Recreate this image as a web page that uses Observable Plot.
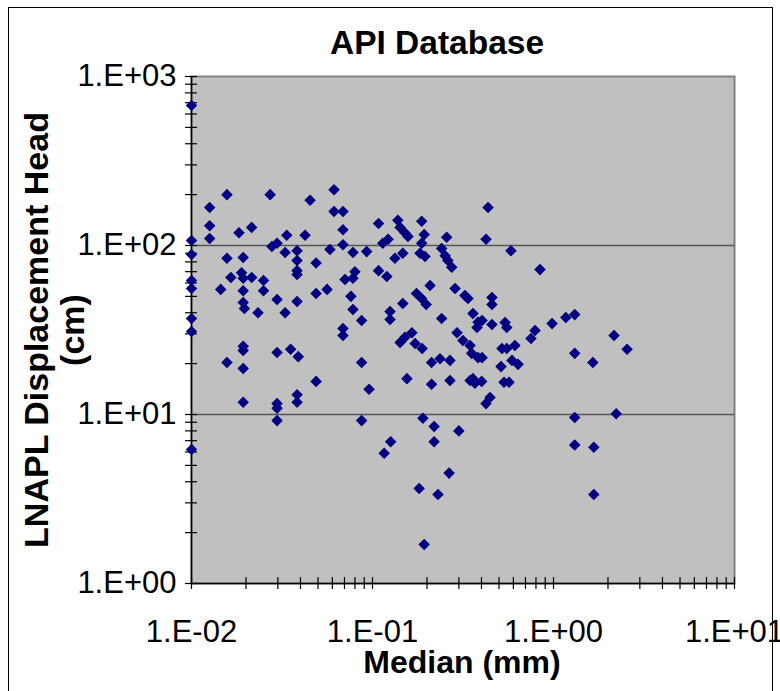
<!DOCTYPE html>
<html>
<head>
<meta charset="utf-8">
<script src="https://cdn.jsdelivr.net/npm/d3@7"></script>
<script src="https://cdn.jsdelivr.net/npm/@observablehq/plot@0.6"></script>
<style>
  html, body { margin: 0; padding: 0; background: #fff; }
  #wrap { position: relative; width: 780px; height: 691px; overflow: hidden; }
  #wrap svg { display: block; }
  #border { position: absolute; left: 8px; top: 7px; width: 765px; height: 720px; border: 1.5px solid #000; pointer-events: none; box-sizing: border-box; }
</style>
</head>
<body>
<div id="wrap"><div id="border"></div></div>
<script>
const titleText = "API Database";
const xTitle = "Median (mm)";
const yTitle1 = "LNAPL Displacement Head";
const yTitle2 = "(cm)";

const xMajorTicks = [0.01, 0.1, 1, 10];
const xTickLabels = ["1.E-02", "1.E-01", "1.E+00", "1.E+01"];
const xMinorTicks = [0.02,0.03,0.04,0.05,0.06,0.07,0.08,0.09,0.2,0.3,0.4,0.5,0.6,0.7,0.8,0.9,2,3,4,5,6,7,8,9];
const yMajorTicks = [1, 10, 100, 1000];
const yTickLabels = ["1.E+00", "1.E+01", "1.E+02", "1.E+03"];
const yMinorTicks = [2,3,4,5,6,7,8,9,20,30,40,50,60,70,80,90,200,300,400,500,600,700,800,900];
const gridValues = [10, 100];

const medianMm = [
  0.01,0.01,0.01,0.01,0.01,0.01,0.01,0.01,
  0.0126,0.0126,0.0126,0.0145,0.0157,0.0157,0.0157,0.0165,0.0183,
  0.0193,0.0189,0.0193,0.0193,0.0193,0.0196,0.0193,0.0193,0.0193,0.0193,
  0.0215,0.0215,0.0233,0.025,0.025,0.0272,0.0278,0.0297,0.0297,0.0297,0.0297,0.0297,0.0297,
  0.0336,0.0329,0.0329,0.0353,0.0389,
  0.0383,0.0383,0.0383,0.0383,0.0383,0.0383,0.0383,
  0.0424,0.0452,0.0488,0.0488,0.0488,0.0561,0.0582,0.0613,0.0613,
  0.0687,0.0687,0.0687,0.0705,0.0687,0.0687,
  0.078,0.080,0.078,0.076,0.078,0.0871,0.0871,0.0871,0.0929,0.0957,
  0.108,0.108,0.114,0.122,0.120,0.125,0.125,0.126,0.116,
  0.133,0.138,0.142,0.151,0.157,0.147,0.147,0.165,0.151,0.142,0.172,0.188,0.155,
  0.175,0.187,0.198,0.187,0.193,0.187,0.183,0.195,0.208,0.19,0.219,0.219,0.181,0.230,0.193,
  0.212,0.236,0.268,0.212,0.268,0.265,0.30,
  0.241,0.252,0.261,0.274,0.257,0.241,0.286,0.324,0.337,0.293,0.316,0.346,0.353,0.346,
  0.359,0.383,0.378,0.383,0.359,0.368,0.401,0.403,0.403,
  0.424,0.435,0.457,0.457,0.457,0.446,0.424,
  0.54,0.552,0.519,0.552,0.612,0.59,0.637,0.513,0.533,0.568,0.582,
  0.751,0.791,0.842,0.982,1.17,1.31,1.31,1.65,2.16,2.55,1.31,2.22,1.31,1.67,1.67
];
const headCm = [
  673,107,88.5,62,55.7,37,31,6.2,
  168,131,110,55,200,84,20.3,64.7,119,
  85,69,64,54,46,42.4,25.3,23.9,18.7,11.8,
  128,64.7,40,62,54,200,98.6,103,47.9,23.3,11.6,10.9,9.2,
  115,91,40,24.3,22,
  93,81.5,71,67.4,46.6,13.1,11.8,
  115,185,78.8,52,15.7,55,94.7,214,159,
  159,124,101,63,32.3,29.3,
  91,70,64,50,41.8,36,20.3,9.2,92,14.1,
  135,71,103,109,65.6,40.7,36.5,6.9,5.9,
  84,141,128,119,113,90,45.4,30.5,28.6,26.7,26.3,24.6,16.3,
  52,48.6,44.8,139,116,103,90,86,58,9.5,8.5,6.9,3.65,3.36,1.70,
  20.3,21.4,20.9,15.1,15.9,4.5,8.0,
  96,87,81.5,74.4,112,37,55.7,50.6,48.6,30.5,27.4,25.6,23,15.9,
  39.6,35.2,32.7,21.7,16.3,15.3,15.7,21.7,36,
  109,168,49.2,44.8,34.1,12.6,11.6,
  35,32.7,24.6,24.6,25.6,20.9,19.8,19.2,15.5,15.5,93,
  28.2,31.4,72,34.5,37.5,39,23,20.3,29.3,24.3,9.6,10.1,6.6,6.4,3.36
];

const points = medianMm.map((m, i) => ({median: m, head: headCm[i]}));
const xLabelOf = v => xTickLabels[xMajorTicks.indexOf(v)];
const yLabelOf = v => yTickLabels[yMajorTicks.indexOf(v)];

const font = "'Liberation Sans', Arial, sans-serif";

const chart = Plot.plot({
  width: 780,
  height: 691,
  marginLeft: 191,
  marginRight: 46,
  marginTop: 76,
  marginBottom: 108,
  style: {fontFamily: font, background: "transparent", color: "#000", overflow: "visible"},
  x: {type: "log", domain: [0.01, 10]},
  y: {type: "log", domain: [1, 1000]},
  marks: [
    Plot.frame({fill: "#C0C0C0", stroke: "#808080", strokeWidth: 2}),
    Plot.ruleY(gridValues, {stroke: "#555", strokeWidth: 1.5}),
    Plot.ruleX([0.01], {stroke: "#000", strokeWidth: 1.5}),
    Plot.ruleY([1], {stroke: "#000", strokeWidth: 1.5}),
    // crossing tick marks
    Plot.axisY({ticks: yMinorTicks, anchor: "left", tickSize: 12, dx: 6, text: null, label: null, stroke: "#000", strokeWidth: 1.2}),
    Plot.axisY({ticks: yMajorTicks, anchor: "left", tickSize: 12, dx: 6, text: null, label: null, stroke: "#000", strokeWidth: 1.2}),
    Plot.axisX({ticks: xMinorTicks, anchor: "bottom", tickSize: 12, dy: -6, text: null, label: null, stroke: "#000", strokeWidth: 1.2}),
    Plot.axisX({ticks: xMajorTicks, anchor: "bottom", tickSize: 12, dy: -6, text: null, label: null, stroke: "#000", strokeWidth: 1.2}),
    // tick labels
    Plot.axisY({ticks: yMajorTicks, anchor: "left", tickSize: 0, tickPadding: 15, tickFormat: yLabelOf, label: null, fontSize: 31, fill: "#000"}),
    Plot.axisX({ticks: xMajorTicks, anchor: "bottom", tickSize: 0, tickPadding: 36, tickFormat: xLabelOf, label: null, fontSize: 31, fill: "#000"}),
    // data
    Plot.dot(points, {x: "median", y: "head", symbol: "diamond2", r: 5.2, fill: "#000080", stroke: "none"}),
    // titles
    Plot.text([titleText], {frameAnchor: "top", dx: -26, dy: -33, lineAnchor: "middle", textAnchor: "middle", fontSize: 33.5, fontWeight: "bold", fill: "#000"}),
    Plot.text([xTitle], {frameAnchor: "bottom", dx: -1, dy: 79, lineAnchor: "middle", textAnchor: "middle", fontSize: 32, fontWeight: "bold", fill: "#000"}),
    Plot.text([yTitle1], {frameAnchor: "left", dx: -154, rotate: -90, lineAnchor: "middle", textAnchor: "middle", fontSize: 34, fontWeight: "bold", fill: "#000"}),
    Plot.text([yTitle2], {frameAnchor: "left", dx: -118, rotate: -90, lineAnchor: "middle", textAnchor: "middle", fontSize: 34, fontWeight: "bold", fill: "#000"})
  ]
});

document.getElementById("wrap").prepend(chart);
</script>
</body>
</html>
